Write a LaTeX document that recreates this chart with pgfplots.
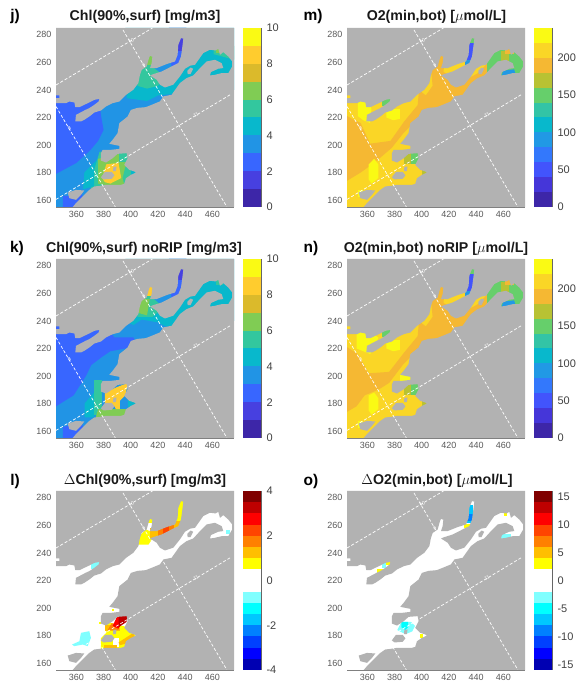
\documentclass[border=0pt]{standalone}
\usepackage{pgfplots}
\usepackage{pgfplotstable}
\usepackage{fontspec}
\setmainfont{Liberation Sans}
\pgfplotsset{compat=1.18}
\definecolor{land}{gray}{0.70}
\definecolor{ca}{rgb}{0.24,0.15,0.66}
\definecolor{cb}{rgb}{0.28,0.25,0.88}
\definecolor{cc}{rgb}{0.22,0.40,1.0}
\definecolor{cd}{rgb}{0.13,0.58,0.9}
\definecolor{ce}{rgb}{0.03,0.72,0.80}
\definecolor{cf}{rgb}{0.2,0.78,0.62}
\definecolor{cg}{rgb}{0.5,0.8,0.33}
\definecolor{ch}{rgb}{0.86,0.73,0.17}
\definecolor{ci}{rgb}{1,0.8,0.18}
\definecolor{cj}{rgb}{0.98,0.98,0.08}
\definecolor{oa}{rgb}{0.24,0.15,0.66}
\definecolor{ob}{rgb}{0.27,0.21,0.85}
\definecolor{oc}{rgb}{0.26,0.33,0.99}
\definecolor{od}{rgb}{0.2,0.47,0.99}
\definecolor{oe}{rgb}{0.13,0.6,0.9}
\definecolor{of}{rgb}{0.03,0.72,0.8}
\definecolor{og}{rgb}{0.2,0.77,0.65}
\definecolor{oh}{rgb}{0.4,0.81,0.42}
\definecolor{oi}{rgb}{0.72,0.76,0.2}
\definecolor{oj}{rgb}{0.96,0.72,0.2}
\definecolor{ok}{rgb}{0.98,0.84,0.15}
\definecolor{ol}{rgb}{0.98,0.98,0.08}
\definecolor{wa}{rgb}{1,1,0}
\definecolor{wb}{rgb}{1,0.75,0}
\definecolor{wc}{rgb}{1,0.5,0}
\definecolor{wd}{rgb}{1,0.27,0}
\definecolor{we}{rgb}{1,0,0}
\definecolor{wf}{rgb}{0.75,0,0}
\definecolor{wg}{rgb}{0.5,0,0}
\definecolor{ba}{rgb}{0.5,1,1}
\definecolor{bb}{rgb}{0,1,1}
\definecolor{bc}{rgb}{0,0.78,1}
\definecolor{bd}{rgb}{0,0.5,1}
\definecolor{be}{rgb}{0,0.25,1}
\definecolor{bf}{rgb}{0,0,1}
\definecolor{bg}{rgb}{0,0,0.7}
\pgfplotstableread{
x y
345 230.4
352.4 230.4
354.8 231.6
358.5 230.9
359.2 227.5
362.2 227.5
365.8 229.2
369.5 230.9
373.2 232.8
376.9 233.5
376.4 231.6
373.2 229.2
369.5 226.8
366.6 225.5
359.7 221.9
359.2 217.1
363.4 217.1
365.8 218.3
369.5 220.7
373.2 223.6
378.1 225.1
381.8 228
386.7 230.4
391.6 231.6
396.5 236.4
400.1 238.9
401.9 240.1
405.6 245
406.8 251
408.1 254.6
411.7 257
413.4 263.1
414.2 264.8
415.9 264.1
415.4 259.5
414.2 255.9
419.1 255.9
426.4 258.8
432.6 260.7
434.5 265.5
435 272.8
437 277.7
438.7 277.2
438 271.6
437 264.3
435 259.5
430.1 257.1
422.8 253.4
416.6 251.5
414.2 250.5
419.1 247.4
421.5 243.8
425.2 241.8
431.3 243.8
436.2 249.8
439.9 255.4
443.6 257.6
447.3 258.3
453.4 266.8
458.3 269.2
462.5 268.7
464.4 269.9
465.7 265.5
468.1 267.5
471.8 264.3
474.7 260.7
474.7 257.1
471.8 252.2
466.9 252.2
462 251
458.3 250.5
459 253
464.4 255.4
468.1 255.9
466.9 259.5
462 261.9
455.8 260.7
451 255.9
446 250.5
441.1 248.6
436.2 245
430.1 236.5
424 235.3
421.5 231.7
415.4 229.2
411 227.5
405 227
400.1 225.5
397.7 220.7
391.6 215.9
390.3 208.6
386.7 203.8
384.2 200.9
391.6 199.4
391.6 197.2
385.4 196.5
379.3 196.5
378.1 194.1
378.1 188.7
381.8 187.3
386.7 190.4
390.3 193.6
397 194.1
397.7 190.4
395.2 185.6
398.9 182
402.6 180.8
403.8 180
400.1 178.3
396.5 175.9
395.2 171.8
392.8 171.1
381.8 171.1
376.9 170.3
373.2 169.9
369.5 167.4
365.8 163.8
359.7 157.8
357.3 155
476 155
476 285
345 285
345 236
347.5 236
347.5 234
345 234
}\landmain
\pgfplotstableread{
x y
378 176.5
381 180.5
386 180.5
388 178
386 175.5
380 175
}\islandA
\pgfplotstableread{
x y
353.6 165.5
359.7 167.4
365.8 167
363.4 163.8
359.7 160.2
354.8 161.4
}\islandB
\pgfplotstableread{
x y
441.6 253.9
444 256.3
446 255.4
444 251.5
441.9 251.5
}\islandC
\pgfplotstableread{
x y
387.2 184.4
389.6 184.4
389 181
387 181
}\islandD
\newcommand\zone[2]{\addplot[fill=#1,draw=none,forget plot] coordinates {#2};}
\newcommand\band[3]{\addplot[fill=#1,draw=none,forget plot] coordinates {(0,#2)(1,#2)(1,#3)(0,#3)};}
\newcommand\landlayer{%
\addplot[fill=land,draw=none,forget plot] table {\landmain};
\addplot[fill=land,draw=none,forget plot] table {\islandA};
\addplot[fill=land,draw=none,forget plot] table {\islandB};
\addplot[fill=land,draw=none,forget plot] table {\islandC};
\addplot[fill=land,draw=none,forget plot] table {\islandD};
\addplot[gridl] coordinates {(345,243.6)(416,285)};
\addplot[gridl] coordinates {(345,160.5)(474,237)};
\addplot[gridl] coordinates {(394.3,283.6)(470.8,155)};
\addplot[gridl] coordinates {(345,228)(388.7,155)};
\node[gridt,rotate=30] at (axis cs:400.4,275.6) {10};
\node[gridt,rotate=30] at (axis cs:409.5,258) {9};
\node[gridt,rotate=30] at (axis cs:355,212) {8};
\node[gridt,rotate=30] at (axis cs:448,222) {11};
}
\tikzset{gridt/.style={text=white,font=\fontsize{5}{5}\selectfont,inner sep=0pt}}
\pgfplotsset{gridl/.style={draw=white,dashed,line width=0.7pt,dash pattern=on 3pt off 2pt,forget plot},
 mapax/.style={scale only axis,width=178pt,height=179pt,anchor=south west,
  xmin=345,xmax=476,ymin=155,ymax=285,
  xtick={360,380,...,460},ytick={160,180,...,280},
  axis x line*=bottom,axis y line*=left,axis line style={draw=black!50,line width=0.4pt,-},
  tick style={draw=black!50,line width=0.3pt},tick align=inside,major tick length=1.5pt,
  /pgf/number format/assume math mode=true,
  ticklabel style={font=\fontsize{9}{9}\selectfont,text=black!65},
  xticklabel style={yshift=-1pt},yticklabel style={xshift=-1pt},
  axis on top=false},
 cbax/.style={scale only axis,width=18pt,height=179pt,anchor=south west,xmin=0,xmax=1,
  xtick=\empty,axis y line*=right,axis x line=none,y axis line style={draw=black!60,line width=0.3pt},
  /pgf/number format/assume math mode=true,major tick length=0pt,
  yticklabel style={font=\fontsize{11}{11}\selectfont,text=black!75,xshift=2pt}}}
\begin{document}
\begin{tikzpicture}[x=1pt,y=1pt]
\path[use as bounding box] (0,0) rectangle (581,684);
\tikzset{ttl/.style={font=\bfseries\fontsize{14.2}{14}\selectfont,text=black!90},let/.style={font=\bfseries\fontsize{15.5}{15}\selectfont}}
\node[let] at (15,667) {j)};
\node[let] at (313,667) {m)};
\node[let] at (17,435) {k)};
\node[let] at (311,435) {n)};
\node[let] at (15,203) {l)};
\node[let] at (311,203) {o)};
\node[ttl] at (145,667) {Chl(90\%,surf) [mg/m3]};
\node[ttl] at (436.5,667) {O2(min,bot) [$\mu$mol/L]};
\node[ttl] at (144,435) {Chl(90\%,surf) noRIP [mg/m3]};
\node[ttl] at (436,435) {O2(min,bot) noRIP [$\mu$mol/L]};
\node[ttl] at (145,203) {$\Delta$Chl(90\%,surf) [mg/m3]};
\node[ttl] at (437,203) {$\Delta$O2(min,bot) [$\mu$mol/L]};

% j
\begin{axis}[mapax,at={(56pt,477pt)}]
\zone{cd}{(345,155)(476,155)(476,285)(345,285)}
\zone{cc}{(345,179)(360,187)(370,196)(376,203)(380,211)(378,222)(376,245)(345,245)}
\zone{cc}{(350,155)(350,163)(357,163)(364,165)(366,155)}
\zone{ce}{(397,234)(412,232)(420,236)(440,238)(476,240)(476,285)(396,285)}
\zone{cd}{(416.5,252.8)(432,253.5)(441,262)(441,285)(428,285)(416.5,262)}
\zone{cc}{(430,256)(441,262)(441,285)(428,285)}
\zone{cb}{(432,268)(442,268)(442,285)(432,285)}
\zone{cf}{(405,243)(412,241)(420,243)(425,250)(417,256)(417,270)(404,270)}
\zone{cg}{(408,258)(417,258)(417,266)(408,266)}
\zone{cf}{(461,266)(476,262)(476,272)(461,272)}
\zone{cg}{(463,267)(467,267)(467,271)(463,271)}
\zone{ce}{(365,168)(366,180)(376,190)(376,172)}
\zone{cf}{(370,165)(372,178)(377,195)(400,197)(407,185)(407,170)}
\zone{ce}{(365,168)(366,180)(373,187)(373,170)}
\zone{cg}{(376,172)(376,190)(384,192)(398,197)(400,185)(394,176)(396,168)}
\zone{cf}{(391,188)(398,188)(398,197)(391,197)}
\zone{ci}{(379,176)(382,186)(391,187)(393,176)(385,172)(381,173)}
\zone{cf}{(394,176)(407,176)(407,184)(396,184)}
\zone{ce}{(400,178)(407,178)(407,184)(400,184)}
\landlayer
\end{axis}
\begin{axis}[cbax,at={(243pt,477pt)},ymin=0,ymax=10,ytick={0,2,...,10}]
\band{ca}{0}{1}\band{cb}{1}{2}\band{cc}{2}{3}\band{cd}{3}{4}\band{ce}{4}{5}
\band{cf}{5}{6}\band{cg}{6}{7}\band{ch}{7}{8}\band{ci}{8}{9}\band{cj}{9}{10}
\end{axis}

% k
\begin{axis}[mapax,at={(56pt,246pt)}]
\zone{cd}{(345,155)(476,155)(476,285)(345,285)}
\zone{cc}{(345,178)(358,186)(367,200)(371,208)(379,214)(385,218)(396,220)(404,224)(402,228)(388,228)(378,240)(345,240)}
\zone{cc}{(350,155)(350,163)(364,166)(367,155)}
\zone{ce}{(402,237)(408,241)(420,239)(426,236)(476,240)(476,285)(396,285)(396,240)}
\zone{cd}{(416.5,252.8)(432,253.5)(441,262)(441,285)(428,285)(416.5,262)}
\zone{cc}{(430,256)(441,262)(441,285)(428,285)}
\zone{cb}{(432,270)(442,270)(442,285)(432,285)}
\zone{cf}{(405,243)(416,243)(424,250)(417,256)(417,262)(404,262)}
\zone{cg}{(405,246)(412,244)(414,256)(405,256)}
\zone{ci}{(410,258)(417,258)(417,267)(410,267)}
\zone{cf}{(463,266)(468,266)(468,271)(463,271)}
\zone{ce}{(366,170)(366,180)(373,188)(373,170)}
\zone{cf}{(373,172)(373,197)(379,197)(379,172)}
\zone{cg}{(374,169)(376,176)(386,176)(392,176)(398,176)(396,168)}
\zone{ci}{(381,178)(381,188)(390,192)(398,195)(396,186)(392,182)(392,176)(389,176)(388,178)}
\zone{ce}{(398,177)(406,177)(406,184)(398,184)}
\landlayer
\end{axis}
\begin{axis}[cbax,at={(243pt,246pt)},ymin=0,ymax=10,ytick={0,2,...,10}]
\band{ca}{0}{1}\band{cb}{1}{2}\band{cc}{2}{3}\band{cd}{3}{4}\band{ce}{4}{5}
\band{cf}{5}{6}\band{cg}{6}{7}\band{ch}{7}{8}\band{ci}{8}{9}\band{cj}{9}{10}
\end{axis}

% l
\begin{axis}[mapax,at={(56pt,14pt)}]
\zone{white}{(345,155)(476,155)(476,285)(345,285)}
\zone{wa}{(405.5,246)(413,246)(417,252)(414,256)(411,257)(406,252)}
\zone{wa}{(412,262)(417,262)(417,266)(412,266)}
\zone{wb}{(414,250)(420,250)(420,258)(414,258)}
\zone{wc}{(420,250)(424,250)(424,260)(420,260)}
\zone{wd}{(424,250)(428,250)(428,261)(424,261)}
\zone{wc}{(428,252)(432,252)(432,262)(428,262)}
\zone{wb}{(432,256)(440,256)(440,264)(432,264)}
\zone{wa}{(432,263)(442,263)(442,280)(432,280)}
\zone{ba}{(370.7,228)(380,228)(380,235)(370.7,235)}
\zone{wa}{(378,168)(378,178)(382,182)(382,190)(398,186)(405,184)(402,176)(396,168)}
\zone{white}{(387,172)(391,172)(391,178)(387,178)}
\zone{wb}{(380,170)(390,170)(390,173.5)(380,173.5)}
\zone{wb}{(391,175)(402,182)(403,179)(396,174)(392,173)}
\zone{wb}{(381,183)(392,183)(392,188)(381,188)}
\zone{wc}{(383,184)(391,184)(391,188)(386,189)}
\zone{we}{(386.7,187)(391,185)(393,189)(394,194)(390,194)}
\zone{wf}{(391,186)(397,190)(397.5,194.5)(391,194.5)}
\zone{wa}{(386,197.5)(388,197.5)(388,199)(386,199)}
\zone{wa}{(376.5,188.5)(378,188.5)(378,190)(376.5,190)}
\zone{ba}{(363.4,182)(369.5,183.2)(370.7,178.3)(368.3,172.3)(364.6,173.5)(358.5,172.3)(356.8,173.5)(362.2,175.9)}
\zone{ba}{(461,256)(463,256)(463,258)(461,258)}
\zone{ba}{(470,254)(473,254)(473,257)(470,257)}
\landlayer
\end{axis}
\begin{axis}[cbax,at={(243pt,14pt)},ymin=-4,ymax=4,ytick={-4,-2,0,2,4}]
\band{bg}{-4}{-3.5}\band{bf}{-3.5}{-3}\band{be}{-3}{-2.5}\band{bd}{-2.5}{-2}\band{bc}{-2}{-1.5}\band{bb}{-1.5}{-1}\band{ba}{-1}{-0.5}
\band{white}{-0.5}{0.5}
\band{wa}{0.5}{1}\band{wb}{1}{1.5}\band{wc}{1.5}{2}\band{wd}{2}{2.5}\band{we}{2.5}{3}\band{wf}{3}{3.5}\band{wg}{3.5}{4}
\end{axis}

% m
\begin{axis}[mapax,at={(347pt,477pt)}]
\zone{ok}{(345,155)(476,155)(476,285)(345,285)}
\zone{oj}{(345,221)(355,216)(362,201)(377,203)(387,217)(397,229)(398,240)(403,236)(408,243)(407,253)(411,265)(417,265)(416,253)(430,246)(441,252)(447,258)(450,262)(450,235)(420,228)(405,226)(396,218)(386,208)(378,198)(365,187)(355,180)(345,174)}
\zone{ol}{(353,221)(357,218)(362,216)(363,226)(361,232)(353,232)}
\zone{ol}{(361,175)(363,172)(368,176)(368,186)(365,190)(361,186)}
\zone{ol}{(353,162)(353,167)(357,167)(357,162)}
\zone{ol}{(374,220)(379,218)(384,219)(384,226)(374,226)}
\zone{ol}{(399,218)(404,217)(404,221)(399,221)}
\zone{oh}{(448,250)(476,250)(476,272)(448,272)}
\zone{oe}{(458,248)(470,248)(468,255)(460,254)}
\zone{oi}{(458,260)(464,260)(464,268)(458,268)}
\zone{oj}{(461,266)(468,266)(468,271)(461,271)}
\zone{oe}{(432,258)(438,258)(438,263)(432,263)}
\zone{oc}{(432,262)(439,262)(439,274)(432,274)}
\zone{oh}{(433,274)(441,274)(441,280)(433,280)}
\zone{oh}{(370.7,228)(380,228)(380,235)(370.7,235)}
\zone{oi}{(387,186)(392,186)(392,195)(387,195)}
\zone{oh}{(392,186)(398,186)(398,196)(392,196)}
\zone{oi}{(400,178)(406,178)(406,183)(400,183)}
\landlayer
\end{axis}
\begin{axis}[cbax,at={(534pt,477pt)},ymin=0,ymax=240,ytick={0,50,...,200}]
\band{oa}{0}{20}\band{ob}{20}{40}\band{oc}{40}{60}\band{od}{60}{80}\band{oe}{80}{100}\band{of}{100}{120}
\band{og}{120}{140}\band{oh}{140}{160}\band{oi}{160}{180}\band{oj}{180}{200}\band{ok}{200}{220}\band{ol}{220}{240}
\end{axis}

% n
\begin{axis}[mapax,at={(347pt,246pt)}]
\zone{ok}{(345,155)(476,155)(476,285)(345,285)}
\zone{oj}{(345,221)(353,216)(361,202)(376,203)(387,217)(397,229)(398,240)(403,236)(408,243)(407,253)(411,265)(417,265)(416,253)(430,246)(441,252)(447,258)(450,262)(450,235)(420,228)(405,226)(396,218)(386,208)(376,195)(368,190)(358,186)(352,178)(345,174)}
\zone{ol}{(352,220)(357,218)(362,216)(366,222)(368,228)(362,232)(352,232)}
\zone{ol}{(361,175)(363,172)(368,176)(368,184)(365,188)(361,186)}
\zone{ol}{(353,162)(353,167)(357,167)(357,162)}
\zone{ol}{(374,220)(379,218)(384,219)(384,226)(374,226)}
\zone{ol}{(399,218)(404,217)(404,221)(399,221)}
\zone{ol}{(384,196)(394,196)(394,201)(384,201)}
\zone{oh}{(448,250)(476,250)(476,272)(448,272)}
\zone{oe}{(458,248)(470,248)(468,255)(460,254)}
\zone{oi}{(458,260)(464,260)(464,268)(458,268)}
\zone{oj}{(461,266)(468,266)(468,271)(461,271)}
\zone{oe}{(432,258)(438,258)(438,263)(432,263)}
\zone{oc}{(432,262)(439,262)(439,274)(432,274)}
\zone{oh}{(433,274)(441,274)(441,280)(433,280)}
\zone{oh}{(370.7,228)(380,228)(380,235)(370.7,235)}
\zone{oi}{(387,186)(392,186)(392,195)(387,195)}
\zone{oh}{(392,186)(398,186)(398,196)(392,196)}
\zone{oi}{(400,178)(406,178)(406,183)(400,183)}
\landlayer
\end{axis}
\begin{axis}[cbax,at={(534pt,246pt)},ymin=0,ymax=240,ytick={0,50,...,200}]
\band{oa}{0}{20}\band{ob}{20}{40}\band{oc}{40}{60}\band{od}{60}{80}\band{oe}{80}{100}\band{of}{100}{120}
\band{og}{120}{140}\band{oh}{140}{160}\band{oi}{160}{180}\band{oj}{180}{200}\band{ok}{200}{220}\band{ol}{220}{240}
\end{axis}

% o
\begin{axis}[mapax,at={(347pt,14pt)}]
\zone{white}{(345,155)(476,155)(476,285)(345,285)}
\zone{bc}{(432,262)(438,262)(438,275)(432,275)}
\zone{bd}{(432,263)(438,263)(438,268)(432,268)}
\zone{wa}{(431,258)(436,258)(436,261)(431,261)}
\zone{ba}{(457,249)(466,249)(466,254)(457,254)}
\zone{wa}{(460.5,266.5)(463,266.5)(463,270)(460.5,270)}
\zone{wa}{(367,225)(373,225)(373,228)(367,228)}
\zone{ba}{(371,229)(374,229)(374,233)(371,233)}
\zone{wa}{(374,231)(379,231)(379,235)(374,235)}
\zone{ba}{(382,184)(388,181)(393,183)(395,187)(392,190)(385,190)}
\zone{bb}{(385,186)(388,184)(390,186)(390,190)(385,190)}
\zone{wa}{(398.5,178.5)(401,178.5)(401,181)(398.5,181)}
\landlayer
\end{axis}
\begin{axis}[cbax,at={(534pt,14pt)},ymin=-16,ymax=16,ytick={-15,-10,...,15}]
\band{bg}{-16}{-14}\band{bf}{-14}{-12}\band{be}{-12}{-10}\band{bd}{-10}{-8}\band{bc}{-8}{-6}\band{bb}{-6}{-4}\band{ba}{-4}{-2}
\band{white}{-2}{2}
\band{wa}{2}{4}\band{wb}{4}{6}\band{wc}{6}{8}\band{wd}{8}{10}\band{we}{10}{12}\band{wf}{12}{14}\band{wg}{14}{16}
\end{axis}
\end{tikzpicture}
\end{document}
